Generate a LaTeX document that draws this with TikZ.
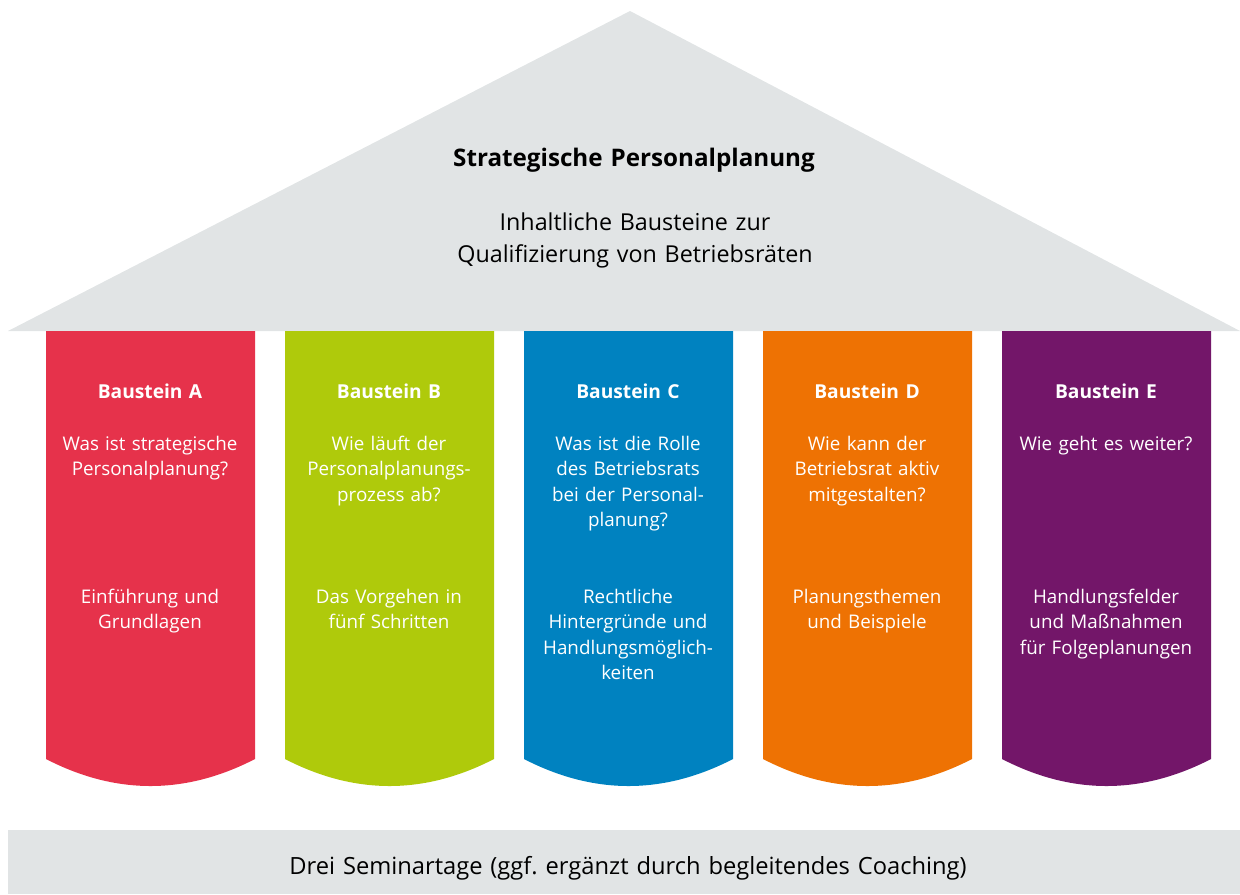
\documentclass[tikz,border=0pt]{standalone}
\usepackage{fontspec}
\setmainfont{Open Sans}
\frenchspacing
\definecolor{roofgray}{HTML}{E1E4E5}
\definecolor{colA}{HTML}{E6324B}
\definecolor{colB}{HTML}{AFCA0B}
\definecolor{colC}{HTML}{0082C0}
\definecolor{colD}{HTML}{EE7203}
\definecolor{colE}{HTML}{731669}
\begin{document}
\begin{tikzpicture}[x=0.5pt,y=-0.5pt,
  coltitle/.style={text=white, align=center, text width=110pt, anchor=base, inner sep=0pt, font=\bfseries\fontsize{9.6}{12.75}\selectfont},
  coltext/.style={text=white, align=center, text width=110pt, anchor=base, inner sep=0pt, font=\fontsize{9.4}{12.75}\selectfont},
  headtext/.style={text=black, align=center, text width=300pt, anchor=base, inner sep=0pt, font=\fontsize{11.65}{16}\selectfont},
  basetext/.style={text=black, align=center, text width=500pt, anchor=base, inner sep=0pt, font=\fontsize{11.85}{16}\selectfont},
  headtitle/.style={text=black, align=center, text width=300pt, anchor=base, inner sep=0pt, font=\bfseries\fontsize{12.1}{14}\selectfont}]
\useasboundingbox (0,0) rectangle (1240,894);
% roof
\fill[roofgray] (8,331) -- (630,11) -- (1240,331) -- cycle;
% base
\fill[roofgray] (8,830) rectangle (1240,894);
% pillars
\foreach \i/\c in {0/colA,1/colB,2/colC,3/colD,4/colE}{
  \pgfmathsetmacro{\xa}{46+239*\i}
  \fill[\c] (\xa,331) -- (\xa,759) .. controls (\xa+69.7,795) and (\xa+139.3,795) .. (\xa+209,759) -- (\xa+209,331) -- cycle;
}
% header
\node[headtitle] (title) at (634,166) {Strategische Personalplanung};
\node[headtext] (subtitle) at (635,230) {Inhaltliche Bausteine zur\\Qualifizierung von Betriebsräten};
% column texts
\node[coltitle] (tA) at (150,398) {Baustein A};
\node[coltitle] (tB) at (389,398) {Baustein B};
\node[coltitle] (tC) at (628,398) {Baustein C};
\node[coltitle] (tD) at (867,398) {Baustein D};
\node[coltitle] (tE) at (1106,398) {Baustein E};
\node[coltext] (qA) at (150,450) {Was ist strategische\\Personalplanung?};
\node[coltext] (qB) at (389,450) {Wie läuft der\\Personalplanungs-\\prozess ab?};
\node[coltext] (qC) at (628,450) {Was ist die Rolle\\des Betriebsrats\\bei der Personal-\\planung?};
\node[coltext] (qD) at (867,450) {Wie kann der\\Betriebsrat aktiv\\mitgestalten?};
\node[coltext] (qE) at (1106,450) {Wie geht es weiter?};
\node[coltext] (bA) at (150,603) {Einführung und\\Grundlagen};
\node[coltext] (bB) at (389,603) {Das Vorgehen in\\fünf Schritten};
\node[coltext] (bC) at (628,603) {Rechtliche\\Hintergründe und\\Handlungsmöglich-\\keiten};
\node[coltext] (bD) at (867,603) {Planungsthemen\\und Beispiele};
\node[coltext] (bE) at (1106,603) {Handlungsfelder\\und Maßnahmen\\für Folgeplanungen};
% base text
\node[basetext] (base) at (628,874) {Drei Seminartage (ggf. ergänzt durch begleitendes Coaching)};
\end{tikzpicture}
\end{document}
